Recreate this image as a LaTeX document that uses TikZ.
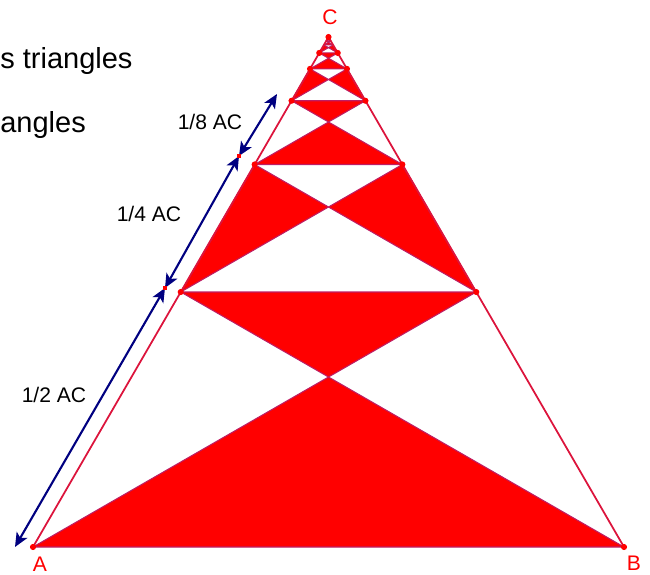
\documentclass[tikz,border=0pt]{standalone}
\usepackage{fontspec}
\setmainfont{Liberation Sans}
\usetikzlibrary{calc,arrows.meta}
\definecolor{trired}{RGB}{255,0,0}
\definecolor{triedge}{RGB}{190,30,100}
\definecolor{sideline}{RGB}{220,20,60}
\definecolor{arrowblue}{RGB}{0,0,128}

\begin{document}
\begin{tikzpicture}[x=0.02cm, y=-0.02cm,
    every node/.style={font=\fontsize{12}{14}\selectfont},
    piece/.style={fill=trired, draw=triedge, line width=0.6pt, line join=round},
    side/.style={draw=sideline, line width=1pt},
    measure/.style={draw=arrowblue, line width=1.2pt,
        {Stealth[length=8pt,width=7pt,inset=2pt]}-{Stealth[length=8pt,width=7pt,inset=2pt]}},
    vlabel/.style={text=red},
    bigtext/.style={anchor=base west, inner sep=0pt, font=\fontsize{16.5}{20}\selectfont},
    dot/.style={circle, fill=red, inner sep=0pt, minimum size=3.5pt},
    tick/.style={fill=red, inner sep=0pt, minimum size=2pt}]

    \useasboundingbox (0,0) rectangle (650,575);
    \clip (0,0) rectangle (650,575);

    \coordinate (A) at (33,547);
    \coordinate (B) at (624,547);
    \coordinate (C) at (328.5,37);

    % halving levels towards C
    \foreach \k in {0,...,10} {
        \pgfmathsetmacro\fa{1-1/2^\k}
        \coordinate (L\k) at ($(A)!\fa!(C)$);
        \coordinate (R\k) at ($(B)!\fa!(C)$);
    }
    \foreach \k in {0,...,9} {
        \pgfmathtruncatemacro\kk{\k+1}
        \coordinate (X\k) at ($(L\k)!2/3!(R\kk)$);
        \ifodd\k
            \filldraw[piece] (L\k) -- (X\k) -- (L\kk) -- cycle;
            \filldraw[piece] (R\k) -- (X\k) -- (R\kk) -- cycle;
        \else
            \filldraw[piece] (L\k) -- (R\k) -- (X\k) -- cycle;
            \filldraw[piece] (L\kk) -- (R\kk) -- (X\k) -- cycle;
        \fi
    }

    \draw[side] (A) -- (C) -- (B);

    \foreach \k in {1,...,5} {
        \node[dot] (dl\k) at (L\k) {};
        \node[dot] (dr\k) at (R\k) {};
    }
    \node[dot] (dA) at (A) {};
    \node[dot] (dB) at (B) {};
    \node[dot] (dC) at (C) {};

    % measures along AC
    \coordinate (m0) at (15,547);
    \coordinate (m1) at (165,288);
    \coordinate (m2) at (239,156);
    \coordinate (m3) at (277,94);
    \draw[measure] (m0) -- (m1);
    \draw[measure] (m1) -- (m2);
    \draw[measure] (m2) -- (m3);
    \node[tick] (t1) at (m1) {};
    \node[tick] (t2) at (m2) {};

    \node (half) at (54,395) {1/2 AC};
    \node (quarter) at (149,214) {1/4 AC};
    \node (eighth) at (210,122) {1/8 AC};

    \node[vlabel] (labA) at (40,564) {A};
    \node[vlabel] (labB) at (634,563) {B};
    \node[vlabel] (labC) at (330,17) {C};

    \node[bigtext] (line1) at (0,68) {s triangles};
    \node[bigtext] (line2) at (0,132) {angles};
\end{tikzpicture}
\end{document}
